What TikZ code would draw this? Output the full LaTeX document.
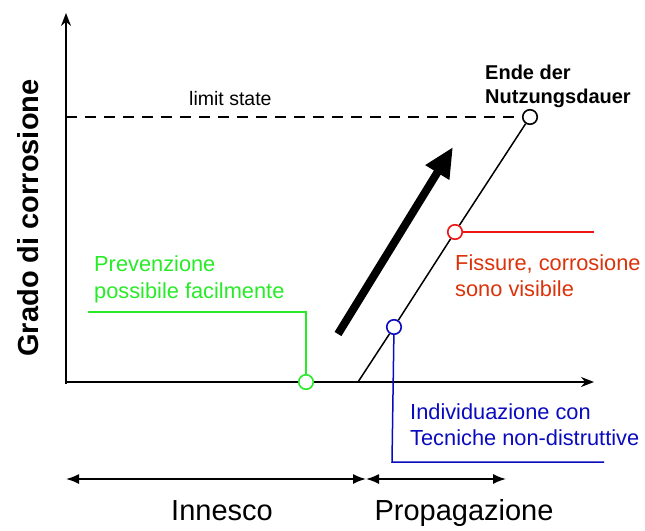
\documentclass[tikz,border=0pt]{standalone}
\usepackage{fontspec}
\setmainfont{Liberation Sans}
\usetikzlibrary{arrows.meta}
\definecolor{cgreen}{RGB}{40,235,40}
\definecolor{cred}{RGB}{240,20,20}
\definecolor{ctred}{RGB}{220,50,10}
\definecolor{cblue}{RGB}{10,10,190}
\tikzset{
  axis/.style={line width=1.6pt,-{Stealth[length=13pt,width=10pt]}},
  marker/.style={circle,draw,fill=white,line width=1.6pt,minimum size=14.5pt,inner sep=0pt},
  lbl/.style={inner sep=0pt,anchor=base west,font=\fontsize{21.8}{26}\selectfont},
  span/.style={line width=1.6pt,{Latex[length=13pt,width=10pt]}-{Latex[length=13pt,width=10pt]}},
  big/.style={inner sep=0pt,anchor=base,font=\fontsize{29}{32}\selectfont},
}
\begin{document}
\begin{tikzpicture}[x=1pt,y=-1pt]
\useasboundingbox (0,0) rectangle (645,530);
% axes
\coordinate (O) at (66,382);
\coordinate (ytop) at (66,13);
\coordinate (xend) at (594,382);
\draw[axis] (66,384) -- (ytop);
\draw[axis] (O) -- (xend);
% y label
\node[rotate=90,anchor=base,font=\fontsize{29}{32}\selectfont\bfseries,inner sep=0pt] (ylab) at (38,218) {Grado di corrosione};
% limit state
\node[marker] (end) at (530,117) {};
\draw[line width=1.5pt,dash pattern=on 11pt off 8pt] (66,117) -- (end.west);
\node[inner sep=0pt,anchor=base west,font=\fontsize{19.5}{22}\selectfont] (ls) at (189,105) {limit state};
\node[inner sep=0pt,anchor=base west,font=\fontsize{20}{24}\selectfont\bfseries] (endlab1) at (485,79) {Ende der};
\node[inner sep=0pt,anchor=base west,font=\fontsize{20}{24}\selectfont\bfseries] (endlab2) at (485,103) {Nutzungsdauer};
% curve
\coordinate (start) at (358,382);
\node[marker,draw=cred] (red) at (455,232) {};
\node[marker,draw=cblue] (blue) at (394,327) {};
\node[marker,draw=cgreen] (green) at (306,382) {};
\draw[line width=1.5pt] (start) -- (blue) -- (red) -- (end);
% big arrow
\coordinate (ba1) at (338,334);
\coordinate (ba2) at (453,147);
\draw[line width=8pt,-{Triangle[length=30pt,width=26pt]}] (ba1) -- (ba2);
% red annotation
\coordinate (redend) at (594,232);
\draw[cred,line width=1.5pt] (red) -- (redend);
\node[lbl,text=ctred] (redlab1) at (455,270) {Fissure, corrosione};
\node[lbl,text=ctred] (redlab2) at (455,296) {sono visibile};
% blue annotation
\coordinate (bc1) at (392,462);
\coordinate (bc2) at (604,462);
\draw[cblue,line width=1.5pt] (blue) -- (bc1) -- (bc2);
\node[lbl,text=cblue] (bluelab1) at (410,419) {Individuazione con};
\node[lbl,text=cblue] (bluelab2) at (410,445) {Tecniche non-distruttive};
% green annotation
\coordinate (gc1) at (306,312);
\coordinate (gc2) at (88,312);
\draw[cgreen,line width=1.5pt] (green) -- (gc1) -- (gc2);
\node[lbl,text=cgreen] (greenlab1) at (94,271) {Prevenzione};
\node[lbl,text=cgreen] (greenlab2) at (94,298) {possibile facilmente};
% phases
\coordinate (p0) at (66,479);
\coordinate (p1) at (366,479);
\coordinate (p2) at (506,479);
\draw[span] (p0) -- (p1);
\draw[span] (p1) -- (p2);
\node[big] (inn) at (222,520) {Innesco};
\node[big] (prop) at (464,520) {Propagazione};
\end{tikzpicture}
\end{document}
